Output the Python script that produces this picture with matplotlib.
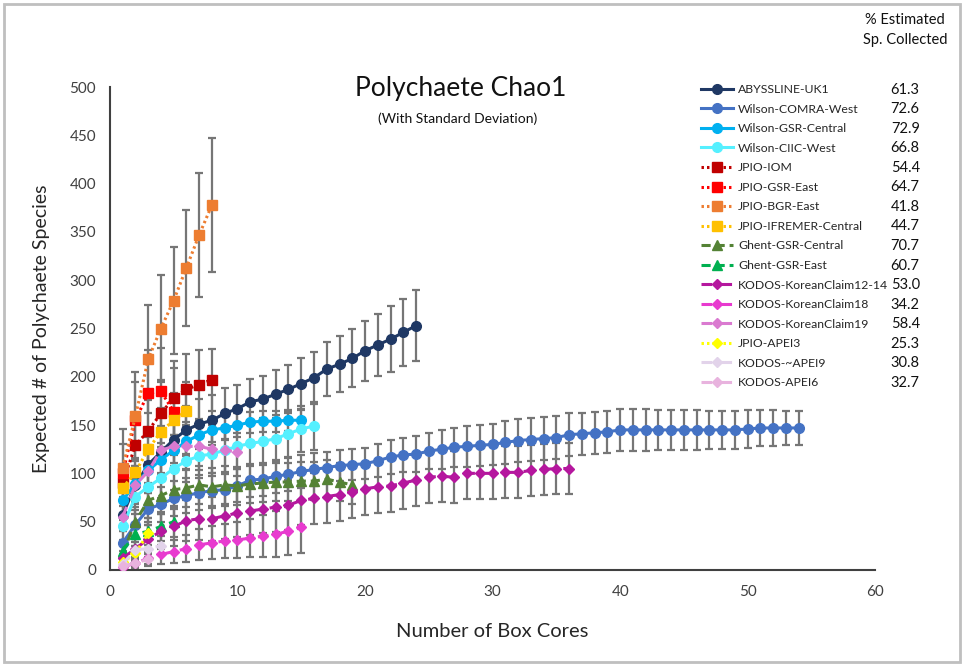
import matplotlib
matplotlib.use('Agg')
import matplotlib.pyplot as plt
from matplotlib.patches import Rectangle

plt.rcParams['font.family'] = ['Lato', 'DejaVu Sans']

# Chao1 mean estimates and standard deviation, by number of box cores (1..n)
abyssline_uk1 = [57, 88, 109, 122, 135, 145, 151, 155, 162, 167, 174, 177, 182, 187, 193,
                 199, 208, 213, 219, 227, 233, 239, 246, 253]
abyssline_uk1_sd = [15, 18, 20, 22, 24, 25, 26, 26, 26, 25, 24, 24, 25, 25, 26,
                    27, 28, 29, 30, 31, 32, 34, 35, 37]

comra_west = [28, 47, 63, 68, 74, 77, 80, 82, 83, 87, 93, 94, 97, 99, 102, 104, 106, 108,
              109, 110, 113, 117, 119, 120, 123, 125, 127, 128, 129, 130, 132, 134, 135,
              136, 137, 140, 141, 142, 143, 145, 145, 145, 145, 145, 145, 145, 145, 145,
              145, 146, 147, 147, 147, 147]
comra_west_sd = [12, 15, 17, 18, 18, 18, 18, 18, 17, 17, 17, 17, 17, 17, 17, 17, 16, 16,
                 16, 16, 17, 18, 18, 19, 19, 20, 20, 21, 21, 21, 22, 22, 22, 22, 22, 22,
                 22, 22, 22, 22, 22, 22, 21, 21, 21, 21, 20, 20, 20, 20, 19, 19, 18, 18]

gsr_central = [72, 89, 103, 114, 124, 133, 140, 145, 147, 150, 153, 154, 154, 155, 155]
gsr_central_sd = [20, 19, 18, 17, 16, 15, 14, 13, 12, 12, 11, 11, 11, 11, 11]

ciic_west = [45, 76, 86, 95, 105, 113, 118, 120, 124, 128, 131, 133, 136, 141, 146, 149]
ciic_west_sd = [14, 18, 20, 21, 22, 22, 23, 23, 23, 23, 23, 24, 24, 24, 24, 25]

jpio_iom = [90, 129, 144, 162, 178, 187, 192, 197]
jpio_iom_sd = [20, 28, 32, 35, 38, 37, 36, 32]

jpio_gsr_east = [100, 155, 183, 185, 164]
jpio_gsr_east_sd = [30, 40, 45, 45, 45]

jpio_bgr_east = [106, 159, 218, 250, 279, 313, 347, 378]
jpio_bgr_east_sd = [40, 46, 56, 55, 55, 60, 64, 69]

jpio_ifremer = [85, 101, 125, 143, 155, 165]
jpio_ifremer_sd = [10, 15, 20, 25, 28, 30]

ghent_gsr_central = [17, 50, 72, 77, 83, 85, 88, 86, 88, 87, 89, 90, 91, 91, 92, 92, 94, 91, 88]
ghent_gsr_central_sd = [10, 15, 18, 19, 20, 20, 20, 20, 20, 20, 20, 20, 20, 20, 20, 20, 20, 20, 20]

ghent_gsr_east = [20, 37, 40, 45, 50]
ghent_gsr_east_sd = [8, 12, 14, 15, 16]

kodos_kc12_14 = [12, 22, 32, 40, 45, 51, 53, 53, 56, 59, 61, 63, 65, 67, 72, 74, 76, 78,
                 81, 84, 86, 87, 90, 93, 96, 97, 96, 100, 100, 100, 101, 101, 103, 104, 105, 105]
kodos_kc12_14_sd = [8, 12, 15, 18, 20, 21, 22, 23, 24, 25, 25, 25, 26, 26, 26, 26, 27, 27,
                    27, 27, 27, 27, 27, 27, 27, 27, 27, 27, 27, 27, 27, 27, 26, 26, 26, 26]

kodos_kc18 = [3, 7, 12, 16, 19, 22, 26, 28, 30, 31, 33, 35, 37, 40, 44]
kodos_kc18_sd = [3, 5, 8, 10, 12, 14, 16, 17, 18, 19, 20, 22, 24, 25, 27]

kodos_kc19 = [55, 88, 102, 124, 128, 128, 128, 125, 124, 122]
kodos_kc19_sd = [15, 20, 22, 25, 25, 25, 25, 25, 25, 25]

jpio_apei3 = [8, 17, 38]
jpio_apei3_sd = [4, 8, 12]

kodos_apei9 = [6, 21, 22, 25]
kodos_apei9_sd = [3, 8, 9, 10]

kodos_apei6 = [4, 7, 11]
kodos_apei6_sd = [2, 3, 5]

pct_collected = ['61.3', '72.6', '72.9', '66.8', '54.4', '64.7', '41.8', '44.7',
                 '70.7', '60.7', '53.0', '34.2', '58.4', '25.3', '30.8', '32.7']

DOT = (0, (0.8, 1.0))
DASH = (0, (3, 1.6))
LDASH = (0, (3.5, 3))

# name, values, sd, color, marker, linestyle
series = [
    ('ABYSSLINE-UK1', abyssline_uk1, abyssline_uk1_sd, '#1F3864', 'o', '-'),
    ('Wilson-COMRA-West', comra_west, comra_west_sd, '#4472C4', 'o', '-'),
    ('Wilson-GSR-Central', gsr_central, gsr_central_sd, '#00B0F0', 'o', '-'),
    ('Wilson-CIIC-West', ciic_west, ciic_west_sd, '#55F0FF', 'o', '-'),
    ('JPIO-IOM', jpio_iom, jpio_iom_sd, '#C00000', 's', DOT),
    ('JPIO-GSR-East', jpio_gsr_east, jpio_gsr_east_sd, '#FF0000', 's', DOT),
    ('JPIO-BGR-East', jpio_bgr_east, jpio_bgr_east_sd, '#ED7D31', 's', DOT),
    ('JPIO-IFREMER-Central', jpio_ifremer, jpio_ifremer_sd, '#FFC000', 's', DOT),
    ('Ghent-GSR-Central', ghent_gsr_central, ghent_gsr_central_sd, '#548235', '^', DASH),
    ('Ghent-GSR-East', ghent_gsr_east, ghent_gsr_east_sd, '#00B050', '^', DASH),
    ('KODOS-KoreanClaim12-14', kodos_kc12_14, kodos_kc12_14_sd, '#B5179E', 'D', LDASH),
    ('KODOS-KoreanClaim18', kodos_kc18, kodos_kc18_sd, '#E83ACF', 'D', LDASH),
    ('KODOS-KoreanClaim19', kodos_kc19, kodos_kc19_sd, '#DA7AD0', 'D', LDASH),
    ('JPIO-APEI3', jpio_apei3, jpio_apei3_sd, '#FFFF00', 'D', DOT),
    ('KODOS-~APEI9', kodos_apei9, kodos_apei9_sd, '#E2D3EA', 'D', LDASH),
    ('KODOS-APEI6', kodos_apei6, kodos_apei6_sd, '#E8B3DE', 'D', LDASH),
]

fig = plt.figure(figsize=(9.64, 6.65), dpi=100)
ax = fig.add_axes([0.114, 0.143, 0.794, 0.726])

for i, (name, vals, sd, color, marker, ls) in enumerate(series):
    xs = list(range(1, len(vals) + 1))
    ax.errorbar(xs, vals, yerr=sd, fmt='none', ecolor='#767676', elinewidth=1.6,
                capsize=3, capthick=1.6, zorder=2 + i * 0.01)
    ms = 7 if marker in ('o', 's') else (7.5 if marker == '^' else 5.5)
    ax.plot(xs, vals, linestyle=ls, color=color, lw=2.2, marker=marker, markersize=ms,
            markerfacecolor=color, markeredgecolor=color, label=name, zorder=3 + i * 0.01)

ax.set_xlim(0, 60)
ax.set_ylim(0, 500)
ax.set_xticks(range(0, 61, 10))
ax.set_yticks(range(0, 501, 50))
ax.tick_params(length=0, labelsize=11, colors='#404040')
ax.tick_params(axis='y', pad=10)
ax.tick_params(axis='x', pad=11)
for side in ('top', 'right'):
    ax.spines[side].set_visible(False)
for side in ('left', 'bottom'):
    ax.spines[side].set_color('#404040')
    ax.spines[side].set_linewidth(1.5)

ax.set_xlabel('Number of Box Cores', fontsize=14.5, color='#262626', labelpad=17)
ax.set_ylabel('Expected # of Polychaete Species', fontsize=14, color='#262626', labelpad=14)

fig.text(0.478, 0.867, 'Polychaete Chao1', fontsize=19, ha='center', va='center', color='#111111')
fig.text(0.475, 0.822, '(With Standard Deviation)', fontsize=10, ha='center', va='center',
         color='#111111')

leg = ax.legend(loc='upper left', bbox_to_anchor=(0.727, 1 - 84 / 665),
                bbox_transform=fig.transFigure, frameon=False, fontsize=8.8,
                handlelength=2.6, handletextpad=0.45, labelspacing=0.7, borderpad=0,
                borderaxespad=0)
for t in leg.get_texts():
    t.set_color('#262626')

fig.text(0.939, 1 - 20 / 665, '% Estimated', fontsize=10.5, ha='center', va='center',
         color='#111111')
fig.text(0.939, 1 - 40 / 665, 'Sp. Collected', fontsize=10.5, ha='center', va='center',
         color='#111111')

# percent column aligned with legend rows
fig.canvas.draw()
inv = fig.transFigure.inverted()
for t, pct in zip(leg.get_texts(), pct_collected):
    bb = t.get_window_extent()
    yc = inv.transform((0, (bb.y0 + bb.y1) / 2))[1]
    fig.text(0.939, yc, pct, fontsize=10.5, ha='center', va='center', color='#111111')

fig.add_artist(Rectangle((0.004, 0.004), 0.992, 0.99, transform=fig.transFigure,
                         fill=False, edgecolor='#BFBFBF', linewidth=2))

fig.savefig('out.png', dpi=100)
